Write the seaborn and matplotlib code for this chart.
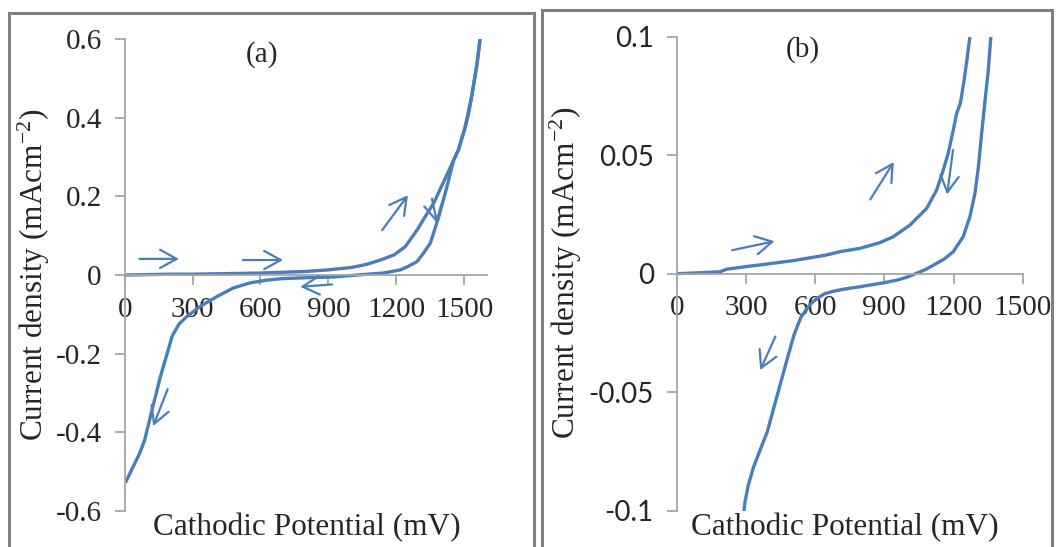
import matplotlib
matplotlib.use("Agg")
import matplotlib.pyplot as plt
import seaborn as sns
import pandas as pd
from matplotlib.patches import Rectangle

# ---------------- data ----------------
xa_fwd = [0, 100, 200, 300, 400, 500, 600, 700, 800, 900, 1000, 1070, 1130, 1190,
          1240, 1292, 1330, 1366, 1400, 1430, 1454, 1475, 1503, 1520, 1533, 1556, 1571]
ya_fwd = [0, 0.001, 0.002, 0.002, 0.003, 0.004, 0.005, 0.007, 0.009, 0.013, 0.019, 0.027,
          0.038, 0.051, 0.072, 0.114, 0.150, 0.183, 0.225, 0.262, 0.292, 0.318, 0.372,
          0.41, 0.452, 0.532, 0.6]
xa_rev = [1571, 1556, 1533, 1503, 1475, 1454, 1420, 1388, 1351, 1320, 1292, 1250, 1218,
          1143, 1050, 922, 800, 700, 628, 554, 480, 407, 333, 274, 240, 210, 180, 157,
          134, 111, 88, 65, 35, 5]
ya_rev = [0.6, 0.532, 0.452, 0.372, 0.318, 0.292, 0.215, 0.148, 0.081, 0.055, 0.034,
          0.021, 0.013, 0.005, 0.001, -0.005, -0.007, -0.009, -0.013, -0.020, -0.033,
          -0.055, -0.080, -0.106, -0.125, -0.155, -0.215, -0.26, -0.313, -0.366, -0.42,
          -0.455, -0.49, -0.526]

xb_fwd = [0, 100, 188, 217, 300, 361, 505, 650, 708, 795, 881, 939, 1011, 1084, 1127,
          1156, 1177, 1199, 1214, 1230, 1245, 1258, 1271]
yb_fwd = [0, 0.0004, 0.0008, 0.0019, 0.003, 0.0037, 0.0055, 0.0079, 0.0093, 0.0107,
          0.0131, 0.0156, 0.0205, 0.0276, 0.0353, 0.0438, 0.0508, 0.0606, 0.0677, 0.072,
          0.081, 0.09, 0.1]
xb_rev = [1362, 1350, 1337, 1322, 1308, 1293, 1271, 1242, 1199, 1160, 1127, 1080, 1040,
          1000, 960, 900, 850, 795, 720, 679, 640, 621, 590, 564, 538, 509, 479, 450,
          421, 392, 362, 333, 311, 296, 292]
yb_rev = [0.1, 0.085, 0.0733, 0.0592, 0.0451, 0.0339, 0.024, 0.0156, 0.0093, 0.0062,
          0.0044, 0.0018, 0.0002, -0.0014, -0.0026, -0.0038, -0.0046, -0.0055, -0.0066,
          -0.0074, -0.0085, -0.0097, -0.0118, -0.0148, -0.0185, -0.0257, -0.036, -0.0463,
          -0.0566, -0.0669, -0.0743, -0.0816, -0.089, -0.0963, -0.1]

x_ticks = [0, 300, 600, 900, 1200, 1500]
x_tick_labels = ["0", "300", "600", "900", "1200", "1500"]
ya_ticks = [-0.6, -0.4, -0.2, 0, 0.2, 0.4, 0.6]
ya_tick_labels = ["-0.6", "-0.4", "-0.2", "0", "0.2", "0.4", "0.6"]
yb_ticks = [-0.1, -0.05, 0, 0.05, 0.1]
yb_tick_labels = ["-0.1", "-0.05", "0", "0.05", "0.1"]

# direction arrows (tail -> head) in data coordinates
arrows_a_tail = [(65, 0.041), (522, 0.038), (917, -0.024), (1138, 0.114), (1358, 0.194), (190, -0.29)]
arrows_a_head = [(240, 0.041), (700, 0.038), (776, -0.030), (1252, 0.203), (1381, 0.132), (126, -0.384)]
arrows_b_tail = [(240, 0.0099), (839, 0.0313), (1198, 0.0522), (428, -0.0265)]
arrows_b_head = [(424, 0.0137), (941, 0.0471), (1172, 0.0334), (362, -0.0407)]

xlabel = "Cathodic Potential (mV)"
ylabel = "Current density (mAcm$^{\\mathregular{-2}}$)"

# ---------------- style ----------------
sns.set_theme(style="white")
plt.rcParams["font.family"] = ["Liberation Serif", "DejaVu Serif"]
plt.rcParams["mathtext.default"] = "regular"
plt.rcParams["axes.unicode_minus"] = False

BLUE = "#4A7EBB"
AX_GRAY = "#A6A6A6"
FRAME = "#808080"
W, H = 1060, 547

fig = plt.figure(figsize=(W / 100, H / 100), dpi=100)
fig.patch.set_facecolor("white")

def add_ax(l, t, r, b):
    return fig.add_axes([l / W, 1 - b / H, (r - l) / W, (b - t) / H])

ax_a = add_ax(124.7, 39, 486.7, 511)
ax_b = add_ax(676.7, 36.7, 1022.7, 510.7)

def curves(ax, xf, yf, xr, yr):
    df = pd.concat([
        pd.DataFrame({"x": xf, "y": yf, "scan": "forward"}),
        pd.DataFrame({"x": xr, "y": yr, "scan": "reverse"}),
    ])
    sns.lineplot(data=df, x="x", y="y", units="scan", estimator=None, sort=False,
                 color=BLUE, lw=2.4, ax=ax, legend=False)

curves(ax_a, xa_fwd, ya_fwd, xa_rev, ya_rev)
curves(ax_b, xb_fwd, yb_fwd, xb_rev, yb_rev)

def style(ax, xlim, ylim, yticks, ylabels, yfont):
    ax.set_xlim(*xlim)
    ax.set_ylim(*ylim)
    ax.set_xlabel("")
    ax.set_ylabel("")
    ax.set_facecolor("white")
    for s in ["top", "right"]:
        ax.spines[s].set_visible(False)
    for s in ["left", "bottom"]:
        ax.spines[s].set_color(AX_GRAY)
        ax.spines[s].set_linewidth(1.3)
    ax.spines["bottom"].set_position(("data", 0))
    ax.set_xticks(x_ticks)
    ax.set_xticklabels(x_tick_labels, fontsize=21, family="Liberation Serif")
    ax.set_yticks(yticks)
    ax.set_yticklabels(ylabels, fontsize=yfont[1], family=yfont[0])
    ax.tick_params(axis="both", which="major", direction="out", length=7.5,
                   width=1.3, color=AX_GRAY, bottom=True, left=True)
    ax.tick_params(axis="x", pad=8)
    ax.tick_params(axis="y", pad=9)

style(ax_a, (0, 1600), (-0.6, 0.6), ya_ticks, ya_tick_labels, ("Liberation Serif", 21))
style(ax_b, (0, 1500), (-0.1, 0.1), yb_ticks, yb_tick_labels, ("Lato", 20))

def arrows(ax, tails, heads):
    for t, h in zip(tails, heads):
        ax.annotate("", xy=h, xytext=t,
                    arrowprops=dict(arrowstyle="->,head_length=0.6,head_width=0.33",
                                    color=BLUE, lw=1.6, mutation_scale=20,
                                    shrinkA=0, shrinkB=0))

arrows(ax_a, arrows_a_tail, arrows_a_head)
arrows(ax_b, arrows_b_tail, arrows_b_head)

ax_a.text(607, 0.56, "(a)", fontsize=21, ha="center", va="center")
ax_b.text(548, 0.0944, "(b)", fontsize=21, ha="center", va="center")

fig.text(307 / W, 1 - 528 / H, xlabel, fontsize=22.5, ha="center", va="center")
fig.text(845 / W, 1 - 528 / H, xlabel, fontsize=22.5, ha="center", va="center")
fig.text(34 / W, 1 - 275 / H, ylabel, fontsize=22.5, ha="center", va="center", rotation=90)
fig.text(566 / W, 1 - 273 / H, ylabel, fontsize=22.5, ha="center", va="center", rotation=90)

# panel frames (open at the bottom, cut off by the image edge)
fig.patches.append(Rectangle((9 / W, -0.05), 524.5 / W, 1.05 - 13.3 / H,
                             transform=fig.transFigure, fill=False, ec=FRAME, lw=2.2))
fig.patches.append(Rectangle((542.3 / W, -0.05), 509.7 / W, 1.05 - 10.3 / H,
                             transform=fig.transFigure, fill=False, ec=FRAME, lw=2.2))

fig.savefig("out.png", dpi=100, facecolor="white")
